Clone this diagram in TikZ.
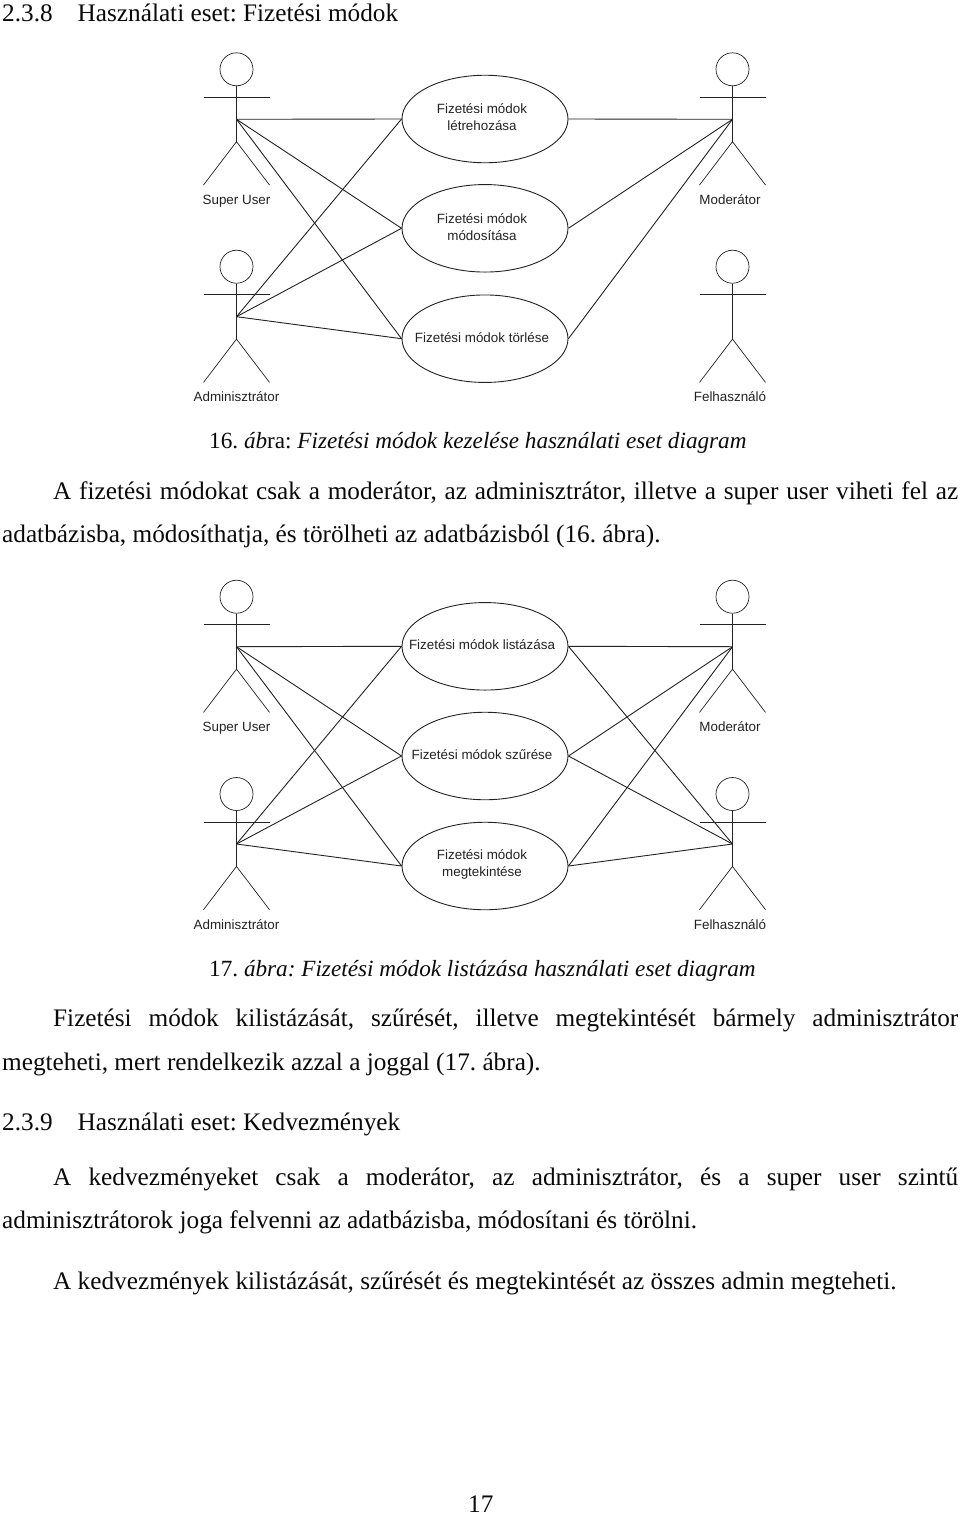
\documentclass[tikz,border=0pt]{standalone}
\usepackage{fontspec}
\setmainfont{Liberation Serif}
\newfontfamily\diagramfont{Liberation Sans}
\usetikzlibrary{calc,shapes.geometric}
\definecolor{UmlInk}{RGB}{35,35,35}
\definecolor{PageInk}{RGB}{10,10,10}
\frenchspacing
\tikzset{
  usecase/.style={ellipse,draw=UmlInk,line width=.9pt,fill=white,minimum width=166pt,minimum height=87.5pt,inner sep=0pt},
  uctext/.style={align=center,text=UmlInk,font=\diagramfont\fontsize{13.4}{17}\selectfont,inner sep=0pt},
  actorhead/.style={circle,draw=UmlInk,line width=.7pt,minimum size=33pt,inner sep=0pt},
  actorline/.style={draw=UmlInk,line width=.7pt},
  actorname/.style={anchor=base,text=UmlInk,font=\diagramfont\fontsize{13.4}{15}\selectfont,inner sep=0pt},
  assoc/.style={draw=UmlInk,line width=.9pt},
  bodyline/.style={anchor=base west,inner sep=0pt,yshift=-1pt,text=PageInk,font=\fontsize{25.25}{28}\selectfont},
  caption/.style={anchor=base west,inner sep=0pt,yshift=-1pt,text=PageInk,font=\fontsize{23.2}{28}\itshape\selectfont}
}
% stick figure: name, x, y of head centre, label, label shift
\newcommand{\actor}[5]{
  \node[actorhead] (#1head) at (#2,#3) {};
  \coordinate (#1hub) at (#2,#3+50);
  \coordinate (#1hip) at (#2,#3+72.4);
  \coordinate (#1larm) at (#2-33,#3+28);
  \coordinate (#1rarm) at (#2+33,#3+28);
  \coordinate (#1lfoot) at (#2-33,#3+115.7);
  \coordinate (#1rfoot) at (#2+33,#3+115.7);
  \draw[actorline] (#1head.south)--(#1hip);
  \draw[actorline] (#1larm)--(#1rarm);
  \draw[actorline] (#1lfoot)--(#1hip)--(#1rfoot);
  \node[actorname] (#1name) at (#2+#5,#3+135) {#4};
}
% ellipse with its text set slightly off centre
\newcommand{\usecase}[4]{
  \node[usecase] (#1) at (#2,#3) {};
  \node[uctext] (#1text) at ($(#1)+(-3,-1.5)$) {#4};
}
\newcommand{\pageline}[4]{\node[bodyline] (#1) at (#2,#3) {#4};}
\newcommand{\fullline}[5]{\node[bodyline] (#1) at (#2,#3) {\makebox[#4pt][s]{#5}};}
\begin{document}
\begin{tikzpicture}[x=1pt,y=-1pt]
  \useasboundingbox (0,0) rectangle (960,1515);
  \fill[white] (0,0) rectangle (960,1515);
  \pageline{secA}{2}{20}{2.3.8\hspace{25pt}Használati eset: Fizetési módok}
  % first diagram
  \actor{su}{236.5}{69.3}{Super User}{0}
  \actor{ad}{236.5}{266.7}{Adminisztrátor}{0}
  \actor{mo}{732.5}{69.3}{Moderátor}{-2.5}
  \actor{fe}{732.5}{266.7}{Felhasználó}{-2.5}
  \usecase{create}{485}{119}{Fizetési módok\\létrehozása}
  \usecase{modify}{485}{228.3}{Fizetési módok\\módosítása}
  \usecase{remove}{485}{338.7}{Fizetési módok törlése}
  \foreach \uc in {create,modify,remove}{
    \draw[assoc] (suhub)--(\uc.west);
    \draw[assoc] (adhub)--(\uc.west);
    \draw[assoc] (mohub)--(\uc.east);
  }
  \node[caption] (capA) at (209,447) {{\upshape 16. }áb{\upshape ra: }Fizetési módok kezelése használati eset diagram};
  \fullline{parA}{53}{498}{905}{A fizetési módokat csak a moderátor, az adminisztrátor, illetve a super user viheti fel az}
  \pageline{parB}{2}{541}{adatbázisba, módosíthatja, és törölheti az adatbázisból (16. ábra).}
  % second diagram
  \actor{sub}{236.5}{596.7}{Super User}{0}
  \actor{adb}{236.5}{794}{Adminisztrátor}{0}
  \actor{mob}{732.5}{596.7}{Moderátor}{-2.5}
  \actor{feb}{732.5}{794}{Felhasználó}{-2.5}
  \usecase{list}{485}{646.3}{Fizetési módok listázása}
  \usecase{filter}{485}{756}{Fizetési módok szűrése}
  \usecase{view}{485}{866}{Fizetési módok\\megtekintése}
  \foreach \uc in {list,filter,view}{
    \draw[assoc] (subhub)--(\uc.west);
    \draw[assoc] (adbhub)--(\uc.west);
    \draw[assoc] (mobhub)--(\uc.east);
    \draw[assoc] (febhub)--(\uc.east);
  }
  \node[caption] (capB) at (209,975) {{\upshape 17. }ábra: Fizetési módok listázása használati eset diagram};
  \fullline{parC}{53}{1025}{905}{Fizetési módok kilistázását, szűrését, illetve megtekintését bármely adminisztrátor}
  \pageline{parD}{2}{1069}{megteheti, mert rendelkezik azzal a joggal (17. ábra).}
  \pageline{secB}{2}{1129}{2.3.9\hspace{25pt}Használati eset: Kedvezmények}
  \fullline{parE}{53}{1184}{905}{A kedvezményeket csak a moderátor, az adminisztrátor, és a super user szintű}
  \pageline{parF}{2}{1227}{adminisztrátorok joga felvenni az adatbázisba, módosítani és törölni.}
  \pageline{parG}{53}{1288}{A kedvezmények kilistázását, szűrését és megtekintését az összes admin megteheti.}
  \pageline{folio}{468}{1511.5}{17}
\end{tikzpicture}
\end{document}
